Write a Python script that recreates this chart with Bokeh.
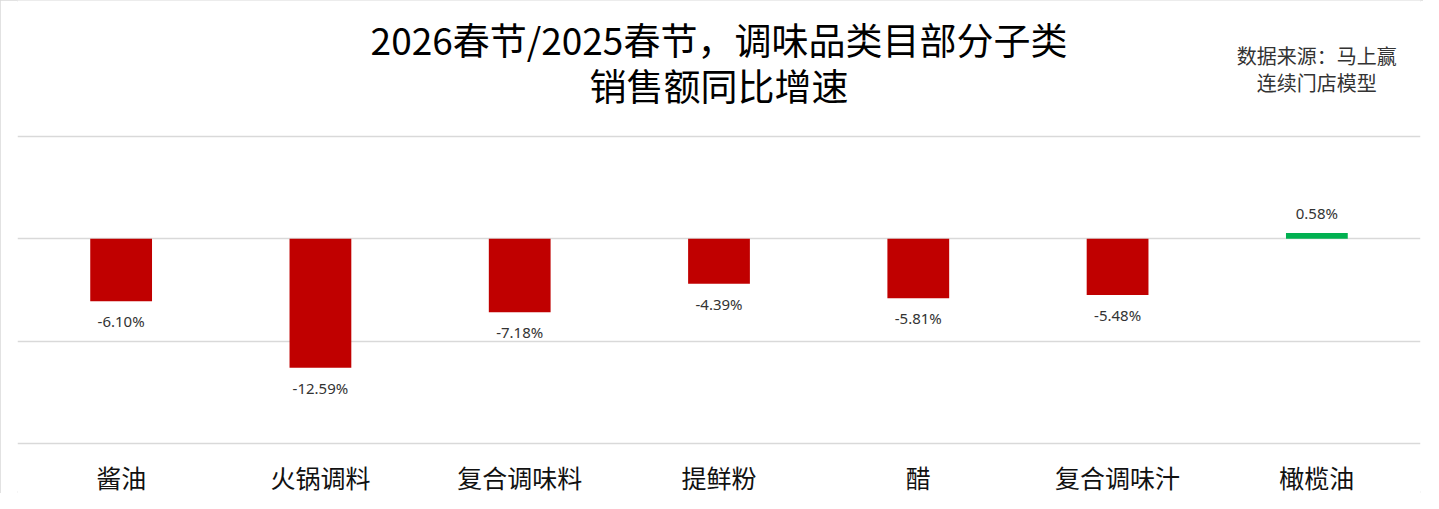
from bokeh.plotting import figure
from bokeh.models import ColumnDataSource, FixedTicker, Range1d, FactorRange
from bokeh.embed import file_html
from bokeh.resources import INLINE
from bokeh.core.properties import value

categories = ["酱油", "火锅调料", "复合调味料", "提鲜粉", "醋", "复合调味汁", "橄榄油"]
growth = [-6.10, -12.59, -7.18, -4.39, -5.81, -5.48, 0.58]
y_ticks = [-20, -10, 0, 10]
title_lines = ["2026春节/2025春节，调味品类目部分子类", "销售额同比增速"]
source_lines = ["数据来源：马上赢", "连续门店模型"]

NEG = "#C00000"
POS = "#00B050"
CJK = "Noto Sans CJK SC"

W, H = 1423, 493
TOP_PX, BOT_PX = 136, 443          # pixel rows of the top and bottom gridlines
ppu = (BOT_PX - TOP_PX) / (max(y_ticks) - min(y_ticks))   # pixels per percent


def row_to_y(row):
    return max(y_ticks) + (TOP_PX - row) / ppu


labels = ["%.2f%%" % v for v in growth]
colors = [POS if v >= 0 else NEG for v in growth]
pos_x = [c for c, v in zip(categories, growth) if v >= 0]
pos_y = [v for v in growth if v >= 0]
pos_t = [l for l, v in zip(labels, growth) if v >= 0]
neg_x = [c for c, v in zip(categories, growth) if v < 0]
neg_y = [v for v in growth if v < 0]
neg_t = [l for l, v in zip(labels, growth) if v < 0]

src = ColumnDataSource(dict(cat=categories, val=growth, color=colors))

p = figure(x_range=FactorRange(factors=categories, range_padding=0.02, range_padding_units="absolute"),
           y_range=Range1d(row_to_y(H), row_to_y(0)),
           width=W, height=H, output_backend="svg", toolbar_location=None,
           x_axis_location=None, y_axis_location=None,
           min_border=0, min_border_left=17, min_border_right=3)
p.styles = {"outline": "2px solid #d9d9d9", "outline-offset": "-2px"}
p.outline_line_color = None
p.background_fill_color = "white"
p.border_fill_color = "white"

p.vbar(x="cat", top="val", bottom=0, width=0.31, fill_color="color", line_color=None, source=src)

p.xgrid.grid_line_color = None
p.ygrid.ticker = FixedTicker(ticks=y_ticks)
p.ygrid.grid_line_color = "#d9d9d9"
p.ygrid.grid_line_width = 1.5

# value labels
p.text(x=neg_x, y=neg_y, text=neg_t, text_align="center", text_baseline="top",
       y_offset=10, text_font=value("Noto Sans"), text_font_size="15px", text_color="#333333")
p.text(x=pos_x, y=pos_y, text=pos_t, text_align="center", text_baseline="bottom",
       y_offset=-10, text_font=value("Noto Sans"), text_font_size="15px", text_color="#333333")

# category labels under the bottom gridline
p.text(x=categories, y=[min(y_ticks)] * len(categories), text=categories,
       text_align="center", text_baseline="middle", y_offset=33,
       text_font=value(CJK), text_font_size="25px", text_color="#111111")

# title (centred on the frame) and source note (above the last category)
mid = len(categories) / 2
p.text(x=[mid, mid], y=[row_to_y(38), row_to_y(84)], text=title_lines,
       text_align="center", text_baseline="middle",
       text_font=value(CJK), text_font_size="37px", text_color="#000000")
last = len(categories) - 0.5
p.text(x=[last, last], y=[row_to_y(55), row_to_y(82)], text=source_lines,
       text_align="center", text_baseline="middle",
       text_font=value(CJK), text_font_size="20px", text_color="#333333")

open("out.html", "w").write(file_html(p, INLINE))
